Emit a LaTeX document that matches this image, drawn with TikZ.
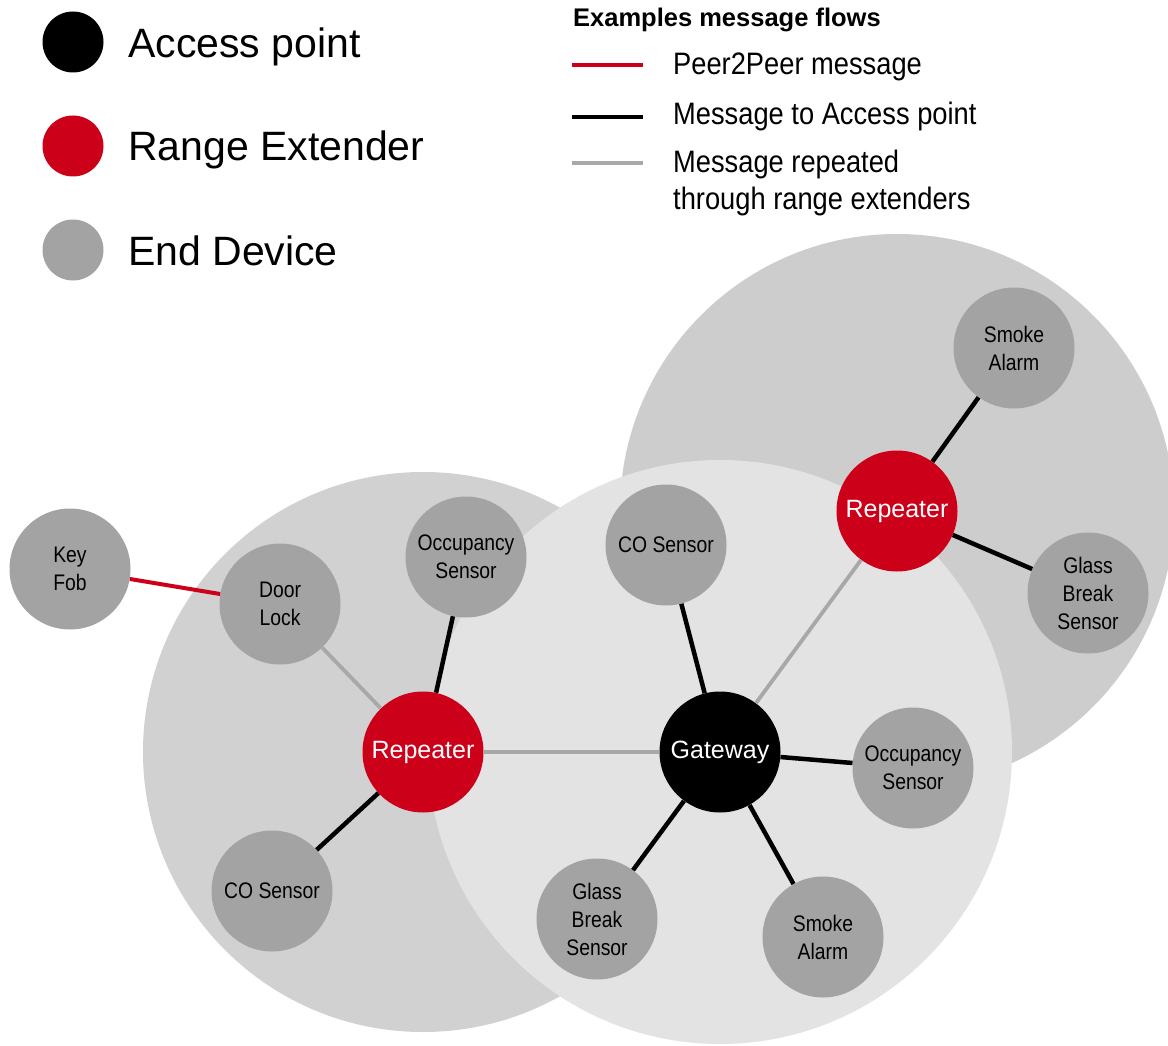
\documentclass[tikz,border=0pt]{standalone}
\usepackage{fontspec}
\setmainfont{Liberation Sans}
\newfontfamily\narrowsans{Liberation Sans}[FakeStretch=0.86]
\newfontfamily\legendsans{Liberation Sans}[FakeStretch=0.88]
\usetikzlibrary{positioning}
\definecolor{repred}{RGB}{205,0,26}
\definecolor{devgray}{RGB}{163,163,163}
\definecolor{relaygray}{RGB}{168,168,168}
\definecolor{rangeleft}{RGB}{209,209,209}
\definecolor{rangeright}{RGB}{205,205,205}
\definecolor{rangemid}{RGB}{227,227,227}

\begin{document}
\begin{tikzpicture}[x=1pt,y=-1pt,
  dev/.style={circle,fill=devgray,minimum size=121pt,inner sep=0pt,align=center,
    font=\narrowsans\fontsize{22.5}{28}\selectfont},
  rep/.style={dev,fill=repred,text=white,font=\fontsize{25}{28}\selectfont},
  gw/.style={rep,fill=black},
  dot/.style={circle,minimum size=61pt,inner sep=0pt},
  p2p/.style={line width=4pt,draw=repred},
  toap/.style={line width=4.5pt,draw=black},
  relay/.style={line width=3.8pt,draw=relaygray},
  bigtext/.style={anchor=base west,inner sep=0pt,font=\fontsize{41}{50}\selectfont},
  legtext/.style={anchor=base west,inner sep=0pt,align=left,font=\legendsans\fontsize{31}{37}\selectfont}]
  \useasboundingbox (0,0) rectangle (1168,1046);

  % radio ranges, the gateway one lies on top
  \fill[rangeright] (897,511) circle (277);
  \fill[rangeleft] (423,752) circle (280);
  \fill[rangemid] (720,752) circle (292);

  % legend: device kinds
  \node[dot,fill=black] (apdot) at (73,42) {};
  \node[dot,fill=repred] (redot) at (73,146) {};
  \node[dot,fill=devgray] (eddot) at (73,250) {};
  \node[bigtext] (aptext) at (128,58) {Access point};
  \node[bigtext] (retext) at (128,161) {Range Extender};
  \node[bigtext] (edtext) at (128,265) {End Device};

  % legend: message flows
  \node[anchor=base west,inner sep=0pt,font=\bfseries\fontsize{25.5}{30}\selectfont] (flowhead) at (573,27) {Examples message flows};
  \foreach \n/\y/\s in {p2pkey/65/p2p,toapkey/117/toap,relaykey/163/relay} {
    \coordinate (\n a) at (572,\y);
    \coordinate (\n b) at (643,\y);
    \draw[\s] (\n a) -- (\n b);
  }
  \node[legtext] (p2ptext) at (673,75) {Peer2Peer message};
  \node[legtext] (toaptext) at (673,125) {Message to Access point};
  % base of a two-line node is its last line
  \node[legtext] (relaytext) at (673,210) {Message repeated\\through range extenders};

  % network
  \node[gw] (gate) at (720,752) {Gateway};
  \node[rep] (repl) at (423,752) {Repeater};
  \node[rep] (repr) at (897,511) {Repeater};
  \foreach \n/\x/\y/\t in {
      keyfob/70/569/{Key\\Fob},
      lock/280/604/{Door\\Lock},
      occl/466/557/{Occupancy\\Sensor},
      col/272/891/{CO Sensor},
      com/666/545/{CO Sensor},
      occm/913/768/{Occupancy\\Sensor},
      glassm/597/919/{Glass\\Break\\Sensor},
      smokem/823/937/{Smoke\\Alarm},
      smoker/1014/348/{Smoke\\Alarm},
      glassr/1088/593/{Glass\\Break\\Sensor}}
    \node[dev] (\n) at (\x,\y) {\t};

  \draw[p2p] (keyfob) -- (lock);
  \draw[relay] (lock) -- (repl);
  \draw[relay] (repl) -- (gate);
  \draw[relay] (gate) -- (repr);
  \draw[toap] (repl) -- (occl);
  \draw[toap] (repl) -- (col);
  \draw[toap] (gate) -- (com);
  \draw[toap] (gate) -- (occm);
  \draw[toap] (gate) -- (glassm);
  \draw[toap] (gate) -- (smokem);
  \draw[toap] (repr) -- (smoker);
  \draw[toap] (repr) -- (glassr);
\end{tikzpicture}
\end{document}
